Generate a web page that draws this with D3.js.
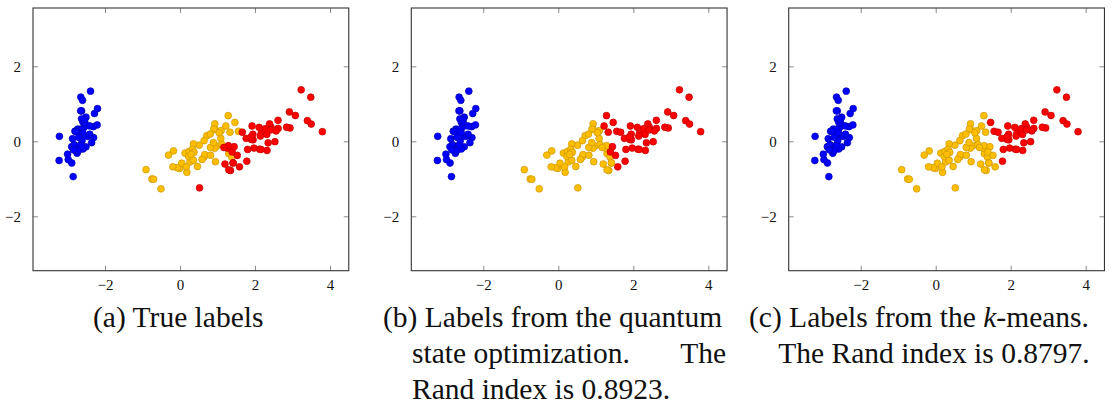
<!DOCTYPE html>
<html><head><meta charset="utf-8">
<script src="https://cdn.jsdelivr.net/npm/d3@7"></script>
<style>html,body{margin:0;padding:0;background:#fff;}svg{display:block;}</style>
</head><body>
<svg id="chart" width="1120" height="416"></svg>
<script>
// First two principal components of each sample
const pcX = [
-2.684,-2.714,-2.889,-2.745,-2.729,-2.281,-2.821,-2.626,-2.886,-2.673,
-2.507,-2.613,-2.786,-3.224,-2.645,-2.386,-2.624,-2.648,-2.200,-2.588,
-2.310,-2.544,-3.216,-2.303,-2.356,-2.507,-2.469,-2.562,-2.640,-2.632,
-2.587,-2.410,-2.649,-2.599,-2.637,-2.866,-2.625,-2.801,-2.981,-2.590,
-2.770,-2.849,-2.997,-2.406,-2.209,-2.714,-2.538,-2.839,-2.543,-2.703,
1.285,0.932,1.464,0.183,1.088,0.642,1.095,-0.749,1.044,-0.009,
-0.508,0.512,0.265,0.985,-0.174,0.928,0.660,0.236,0.945,0.045,
1.116,0.358,1.298,0.922,0.715,0.900,1.332,1.558,0.813,-0.306,
-0.068,-0.190,0.136,1.380,0.588,0.807,1.221,0.815,0.246,0.166,
0.465,0.891,0.231,-0.705,0.357,0.332,0.376,0.643,-0.906,0.299,
2.531,1.416,2.617,1.972,2.350,3.397,0.521,2.933,2.321,2.917,
1.662,1.803,2.166,1.346,1.586,1.904,1.950,3.487,3.796,1.301,
2.428,1.199,3.500,1.389,2.275,2.614,1.259,1.291,2.124,2.388,
2.842,3.231,2.159,1.444,1.781,3.076,2.144,1.905,1.169,2.108,
2.314,1.922,1.416,2.563,2.419,1.944,1.527,1.764,1.901,1.390
];
const pcY = [
0.319,-0.177,-0.145,-0.318,0.327,0.741,-0.089,0.163,-0.578,-0.114,
0.645,0.015,-0.235,-0.511,1.179,1.338,0.811,0.312,0.873,0.514,
0.391,0.433,0.133,0.099,-0.037,-0.146,0.131,0.368,0.312,-0.197,
-0.204,0.411,0.813,1.093,-0.121,0.069,0.599,0.269,-0.488,0.229,
0.264,-0.941,-0.342,0.189,0.437,-0.250,0.504,-0.228,0.579,0.108,
0.685,0.318,0.504,-0.828,0.075,-0.418,0.283,-1.005,0.228,-0.723,
-1.266,-0.104,-0.550,-0.125,-0.255,0.467,-0.353,-0.334,-0.543,-0.584,
-0.085,-0.069,-0.328,-0.183,0.149,0.329,0.244,0.267,-0.163,-0.368,
-0.705,-0.680,-0.314,-0.421,-0.484,0.194,0.408,-0.372,-0.269,-0.682,
-0.671,-0.034,-0.404,-1.012,-0.505,-0.213,-0.293,0.018,-0.756,-0.349,
-0.010,-0.575,0.344,-0.180,-0.040,0.551,-1.240,0.356,-0.244,0.783,
0.242,-0.216,0.216,-0.777,-0.680,0.119,0.042,1.176,0.257,-0.761,
0.378,-0.606,0.461,-0.204,0.335,0.561,-0.180,-0.117,-0.210,0.465,
0.375,1.374,-0.217,-0.143,-0.530,0.688,0.140,0.049,-0.165,0.372,
0.184,0.409,-0.575,0.278,0.305,0.188,-0.375,0.079,0.117,-0.283
];
// cluster labels: 0 = blue, 1 = yellow, 2 = red
const trueLabels = [
0,0,0,0,0,0,0,0,0,0, 0,0,0,0,0,0,0,0,0,0, 0,0,0,0,0,0,0,0,0,0, 0,0,0,0,0,0,0,0,0,0, 0,0,0,0,0,0,0,0,0,0,
1,1,1,1,1,1,1,1,1,1, 1,1,1,1,1,1,1,1,1,1, 1,1,1,1,1,1,1,1,1,1, 1,1,1,1,1,1,1,1,1,1, 1,1,1,1,1,1,1,1,1,1,
2,2,2,2,2,2,2,2,2,2, 2,2,2,2,2,2,2,2,2,2, 2,2,2,2,2,2,2,2,2,2, 2,2,2,2,2,2,2,2,2,2, 2,2,2,2,2,2,2,2,2,2
];
const quantumLabels = [
0,0,0,0,0,0,0,0,0,0, 0,0,0,0,0,0,0,0,0,0, 0,0,0,0,0,0,0,0,0,0, 0,0,0,0,0,0,0,0,0,0, 0,0,0,0,0,0,0,0,0,0,
2,1,2,1,1,1,1,1,1,1, 1,1,1,1,1,1,1,1,1,1, 1,1,1,1,1,1,2,2,1,1, 1,1,1,1,1,1,2,1,1,1, 1,1,1,1,1,1,1,1,1,1,
2,1,2,2,2,2,1,2,2,2, 2,2,2,1,2,2,2,2,2,1, 2,1,2,2,2,2,1,1,2,2, 2,2,2,2,2,2,2,2,1,2, 2,2,1,2,2,2,2,2,2,2
];
const kmeansLabels = [
0,0,0,0,0,0,0,0,0,0, 0,0,0,0,0,0,0,0,0,0, 0,0,0,0,0,0,0,0,0,0, 0,0,0,0,0,0,0,0,0,0, 0,0,0,0,0,0,0,0,0,0,
1,1,2,1,1,1,1,1,1,1, 1,1,1,1,1,1,1,1,1,1, 1,1,1,1,1,1,1,2,1,1, 1,1,1,1,1,1,1,1,1,1, 1,1,1,1,1,1,1,1,1,1,
2,1,2,2,2,2,1,2,2,2, 2,2,2,1,1,2,2,2,2,1, 2,1,2,1,2,2,1,1,2,2, 2,2,2,1,2,2,2,2,1,2, 2,2,1,2,2,2,1,2,2,1
];
const xTicks = [-2, 0, 2, 4];
const yTicks = [-2, 0, 2];
const captionA = ["(a) True labels"];
const captionB = ["(b) Labels from the quantum", "state optimization.", "The", "Rand index is 0.8923."];
const captionC = ["(c) Labels from the ", "k", "-means.", "The Rand index is 0.8797."];

const fillColors = ["#0000ff", "#ffbf00", "#ff0000"];
const strokeColors = ["#0000b0", "#c89600", "#c00000"];

const svg = d3.select("#chart");
const W = 315.75, H = 262.7, TOP = 8;
const panelLefts = [33, 411.3, 788.7];
const labelSets = [trueLabels, quantumLabels, kmeansLabels];
const fmt = d => (d < 0 ? "\u2212" + Math.abs(d) : String(d));
const serif = "'Liberation Serif', 'DejaVu Serif', serif";

panelLefts.forEach((left, p) => {
  const g = svg.append("g").attr("transform", `translate(${left},${TOP})`);
  const x = d3.scaleLinear().domain([-3.92, 4.50]).range([0, W]);
  const y = d3.scaleLinear().domain([-3.45, 3.555]).range([H, 0]);

  const tickLen = 5;
  const tickColor = "#8a8a8a";
  const xb = g.append("g").attr("transform", `translate(0,${H})`)
    .call(d3.axisBottom(x).tickValues(xTicks).tickFormat(fmt).tickSize(-tickLen).tickPadding(9));
  const xt = g.append("g")
    .call(d3.axisTop(x).tickValues(xTicks).tickFormat("").tickSize(-tickLen));
  const yl = g.append("g")
    .call(d3.axisLeft(y).tickValues(yTicks).tickFormat(fmt).tickSize(-tickLen).tickPadding(12));
  const yr = g.append("g").attr("transform", `translate(${W},0)`)
    .call(d3.axisRight(y).tickValues(yTicks).tickFormat("").tickSize(-tickLen));
  [xb, xt, yl, yr].forEach(a => {
    a.select(".domain").remove();
    a.selectAll(".tick line").attr("stroke", tickColor).attr("stroke-width", 1);
    a.selectAll(".tick text").attr("font-family", serif).attr("font-size", 15).attr("fill", "#111");
  });

  const lab = labelSets[p];
  const pts = pcX.map((v, i) => ({ x: v, y: pcY[i], c: lab[i] }));
  g.append("g").selectAll("circle").data(pts).join("circle")
    .attr("cx", d => x(d.x)).attr("cy", d => y(d.y)).attr("r", 3.4)
    .attr("fill", d => fillColors[d.c]).attr("stroke", d => strokeColors[d.c]).attr("stroke-width", 0.7);

  g.append("rect").attr("x", 0).attr("y", 0).attr("width", W).attr("height", H)
    .attr("fill", "none").attr("stroke", "#333").attr("stroke-width", 1.1);
});

function cap(txt, xpos, ypos, anchor) {
  return svg.append("text").attr("x", xpos).attr("y", ypos)
    .attr("font-family", serif).attr("font-size", 29.5).attr("fill", "#111")
    .attr("text-anchor", anchor || "start").text(txt);
}
cap(captionA[0], 93, 327);
cap(captionB[0], 383, 327);
cap(captionB[1], 412, 363);
cap(captionB[2], 726, 363, "end");
cap(captionB[3], 412, 399);
const tc = svg.append("text").attr("x", 749).attr("y", 327)
  .attr("font-family", serif).attr("font-size", 29.5).attr("fill", "#111");
tc.append("tspan").text(captionC[0]);
tc.append("tspan").attr("font-style", "italic").text(captionC[1]);
tc.append("tspan").text(captionC[2]);
cap(captionC[3], 934, 363, "middle");
</script>
</body></html>
